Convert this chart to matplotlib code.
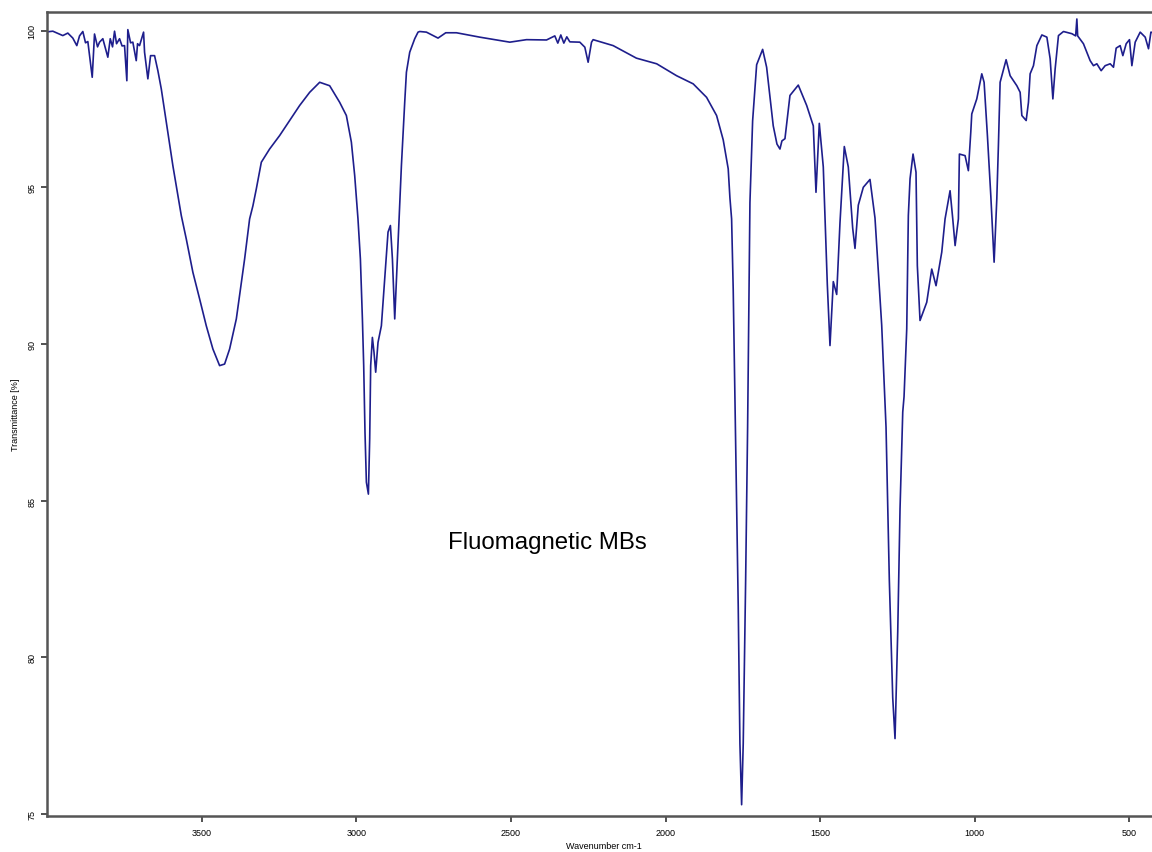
import matplotlib
matplotlib.use("Agg")
import matplotlib.pyplot as plt
import numpy as np

# FTIR spectrum of the fluomagnetic microbeads
wavenumber = [
    4000, 3982.3, 3950.0, 3933.8, 3917.6, 3904.7, 3895.9, 3885.2, 3876.5, 3869.0,
    3854.8, 3847.4, 3837.6, 3831.2, 3820.5, 3811.7, 3804.3, 3796.5, 3789.1, 3782.6,
    3776.1, 3766.4, 3758.3, 3750.3, 3742.8, 3739.6, 3730.8, 3723.4, 3712.4, 3708.2,
    3701.7, 3688.7, 3685.5, 3674.8, 3666.1, 3653.1, 3642.4, 3631.4, 3617.5,
    3610.1, 3593.9, 3582.9, 3566.7, 3550.5, 3529.2, 3507.4, 3485.8, 3464.4, 3442.7,
    3426.5, 3410.3, 3388.6, 3372.4, 3361.8, 3345.6, 3334.9, 3323.9, 3307.7, 3281.0,
    3248.5, 3216.1, 3183.7, 3151.3, 3118.9, 3086.6, 3054.2, 3032.6, 3016.4, 3005.6,
    2995.0, 2987.2, 2980.7, 2976.5, 2972.3, 2967.8, 2961.3, 2957.1, 2953.9, 2948.4,
    2943.2, 2937.7, 2930.2, 2919.3, 2908.5, 2897.8, 2890.1, 2883.6, 2876.1, 2868.7,
    2862.2, 2854.5, 2843.8, 2838.3, 2827.6, 2811.4, 2800.7,
    2795.2, 2773.6, 2736.0, 2711.0, 2676.4, 2601.0, 2503.8, 2449.8, 2385.0,
    2358.2, 2348.5, 2338.8, 2329.0, 2319.4, 2309.6, 2277.3, 2261.1, 2250.4, 2239.4,
    2234.2, 2169.4, 2094.2, 2028.6, 1964.3, 1910.5, 1867.2, 1834.8, 1813.3, 1797.2,
    1791.7, 1786.2, 1781.0, 1772.2, 1764.8, 1759.3, 1753.8, 1748.6, 1740.8, 1734.4,
    1726.9, 1718.2, 1705.2, 1685.8, 1672.9, 1651.5, 1639.5, 1629.8, 1623.4, 1613.6,
    1597.4, 1570.5, 1543.3, 1521.9, 1513.2, 1502.5, 1489.6, 1476.6, 1467.9, 1457.2,
    1446.2, 1435.6, 1421.6, 1408.7, 1394.5, 1387.0, 1376.3, 1360.1, 1338.5, 1322.3,
    1300.6, 1286.6, 1275.9, 1264.9, 1257.5, 1248.7, 1241.3, 1232.5, 1228.3, 1219.6,
    1214.4, 1208.9, 1199.2, 1189.6, 1185.3, 1176.6, 1154.9, 1138.7, 1124.8, 1106.3,
    1095.6, 1079.4, 1070.7, 1063.1, 1052.5, 1049.2, 1030.9, 1020.2, 1012.4, 1009.2,
    993.0, 976.8, 969.3, 958.6, 947.6, 936.9, 928.2, 923.0, 917.5, 898.1,
    885.1, 863.4, 852.7, 847.2, 833.2, 825.8, 820.4, 809.6, 798.6, 782.4,
    766.2, 755.6, 746.8, 739.4, 728.7, 712.5, 685.3, 673.1, 669.2, 666.6,
    647.9, 626.2, 615.5, 604.5, 590.6, 577.6, 561.4, 550.7, 542.0, 529.1,
    520.4, 509.6, 499.0, 491.2, 480.5, 464.3, 448.1, 437.4, 429.6, 412.5, 400,
]

transmittance = [
    99.96, 99.98, 99.84, 99.92, 99.76, 99.52, 99.83, 99.97, 99.61, 99.65,
    98.51, 99.89, 99.48, 99.63, 99.74, 99.42, 99.15, 99.74, 99.48, 99.98,
    99.58, 99.74, 99.51, 99.52, 98.40, 100.03, 99.61, 99.63, 99.04, 99.58,
    99.52, 99.95, 99.31, 98.46, 99.20, 99.20, 98.72, 98.14, 97.24,
    96.76, 95.69, 95.05, 94.10, 93.35, 92.29, 91.44, 90.58, 89.84, 89.31,
    89.36, 89.84, 90.80, 91.97, 92.71, 93.99, 94.41, 94.95, 95.80, 96.22,
    96.65, 97.13, 97.61, 98.03, 98.35, 98.24, 97.71, 97.29, 96.44, 95.37,
    93.99, 92.71, 90.80, 89.31, 87.18, 85.59, 85.21, 86.97, 89.31, 90.21,
    89.74, 89.10, 90.05, 90.58, 92.08, 93.57, 93.78, 92.71, 90.80, 92.50,
    93.99, 95.69, 97.71, 98.67, 99.31, 99.74, 99.95,
    99.97, 99.95, 99.76, 99.93, 99.93, 99.79, 99.63, 99.71, 99.70,
    99.83, 99.60, 99.86, 99.60, 99.80, 99.64, 99.63, 99.47, 98.99, 99.63,
    99.71, 99.52, 99.12, 98.94, 98.56, 98.30, 97.87, 97.29, 96.51, 95.59,
    94.67, 93.99, 91.74, 86.37, 81.65, 77.25, 75.30, 77.25, 82.46, 87.35,
    94.51, 97.12, 98.91, 99.40, 98.83, 96.96, 96.38, 96.22, 96.48, 96.55,
    97.93, 98.26, 97.61, 96.96, 94.84, 97.04, 95.65, 91.91, 89.95, 91.99,
    91.58, 93.86, 96.30, 95.65, 93.70, 93.05, 94.43, 95.00, 95.25, 94.02,
    90.60, 87.35, 82.46, 78.71, 77.41, 80.83, 84.74, 87.83, 88.32, 90.48,
    94.10, 95.27, 96.06, 95.48, 92.50, 90.75, 91.33, 92.39, 91.86, 92.93,
    93.99, 94.89, 93.99, 93.14, 93.99, 96.06, 96.01, 95.53, 96.76, 97.34,
    97.82, 98.62, 98.35, 96.65, 94.73, 92.61, 94.63, 96.33, 98.35, 99.07,
    98.56, 98.24, 98.03, 97.29, 97.13, 97.71, 98.62, 98.88, 99.52, 99.86,
    99.79, 99.10, 97.82, 98.78, 99.84, 99.97, 99.90, 99.83, 100.37, 99.83,
    99.58, 99.04, 98.88, 98.94, 98.72, 98.88, 98.94, 98.83, 99.44, 99.52,
    99.20, 99.58, 99.71, 98.88, 99.63, 99.95, 99.79, 99.42, 99.95, 99.90, 99.80,
]

x_ticks = [3500, 3000, 2500, 2000, 1500, 1000, 500]
y_ticks = [100, 95, 90, 85, 80, 75]

plt.rcParams['font.family'] = ['Liberation Sans', 'DejaVu Sans']

fig = plt.figure(figsize=(11.52, 8.53), dpi=100)
ax = fig.add_axes([0.0411, 0.0422, 0.9659, 0.9421])

ax.plot(wavenumber, transmittance, color='#1e1e8c', lw=1.2)

ax.set_xlim(4000, 400)
ax.set_ylim(74.94, 100.58)

ax.set_xticks(x_ticks)
ax.set_xticklabels([str(v) for v in x_ticks], fontsize=6.5)
ax.set_yticks(y_ticks)
ax.set_yticklabels([str(v) for v in y_ticks], fontsize=6.5, rotation=90,
                   va='center')
ax.tick_params(axis='x', direction='out', length=4, width=1.2,
               color='#333333', pad=4.5)
ax.tick_params(axis='y', direction='out', length=4, width=1.2,
               color='#333333', pad=4)

for side in ('top', 'left', 'bottom', 'right'):
    ax.spines[side].set_linewidth(1.8)
    ax.spines[side].set_color('#555555')

ax.set_xlabel('Wavenumber cm-1', fontsize=6.5, labelpad=3)
ax.set_ylabel('Transmittance [%]', fontsize=6.5, labelpad=5)

ax.text(0.449, 0.341, 'Fluomagnetic MBs', transform=ax.transAxes,
        fontsize=17.3, ha='center', va='center', color='black')

fig.savefig('out.png', dpi=100)
